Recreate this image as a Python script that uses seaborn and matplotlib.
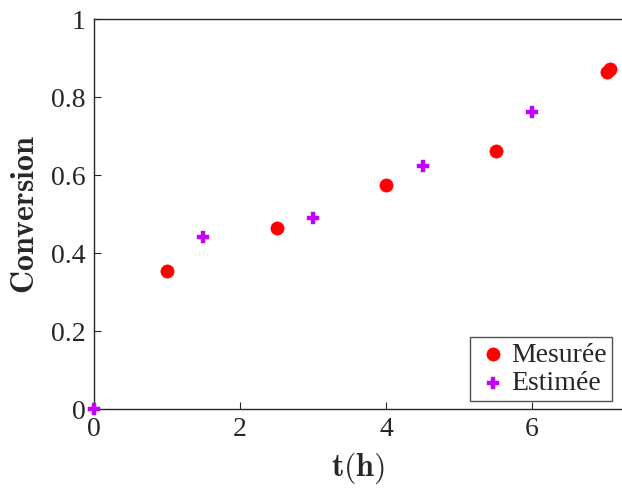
import pandas as pd
import matplotlib
matplotlib.use("Agg")
import matplotlib.pyplot as plt
import seaborn as sns

# valeurs
t_mesure = [1.0, 2.5, 4.0, 5.5, 7.02, 7.07]
conv_mesure = [0.355, 0.464, 0.574, 0.663, 0.864, 0.871]
t_estime = [0.0, 1.5, 3.0, 4.5, 6.0]
conv_estime = [0.0, 0.441, 0.490, 0.623, 0.762]

x_ticks = [0, 2, 4, 6]
y_ticks = [0, 0.2, 0.4, 0.6, 0.8, 1]
y_ticklabels = ["0", "0.2", "0.4", "0.6", "0.8", "1"]

df_m = pd.DataFrame({"t": t_mesure, "conv": conv_mesure})
df_e = pd.DataFrame({"t": t_estime, "conv": conv_estime})

sns.set_style("white")
plt.rcParams["font.family"] = ["Liberation Serif", "DejaVu Serif"]
plt.rcParams["mathtext.fontset"] = "cm"

fig = plt.figure(figsize=(6.22, 4.90), dpi=100)
ax = fig.add_axes([0.151, 0.165, 0.849, 0.796])

sns.scatterplot(data=df_m, x="t", y="conv", ax=ax, color="#ff0000", marker="o",
                s=90, edgecolor="#ff0000", linewidth=0.5, label="Mesurée",
                clip_on=False, zorder=3)
sns.scatterplot(data=df_e, x="t", y="conv", ax=ax, color="#c400ff", marker="P",
                s=70, edgecolor="#c400ff", linewidth=0.3, label="Estimée",
                clip_on=False, zorder=3)

ax.set_xlim(0, 7.23)
ax.set_ylim(0, 1)
ax.set_xticks(x_ticks)
ax.set_yticks(y_ticks)
ax.set_yticklabels(y_ticklabels)
ax.tick_params(direction="in", length=5, width=0.8, labelsize=20, pad=6,
               top=False, right=False, bottom=True, left=True, colors="#262626")
for lab in ax.get_xticklabels() + ax.get_yticklabels():
    lab.set_color("#262626")

for side in ["left", "bottom", "top"]:
    ax.spines[side].set_color("#262626")
    ax.spines[side].set_linewidth(1.0)
ax.spines["right"].set_visible(False)

ax.set_xlabel(r"$\mathbf{t(h)}$", fontsize=23, color="#262626", labelpad=6)
ax.set_ylabel(r"$\mathbf{Conversion}$", fontsize=23, color="#262626", labelpad=7)

leg = ax.legend(loc="lower right", bbox_to_anchor=(0.982, 0.02), fontsize=20,
                frameon=True, fancybox=False, edgecolor="#262626",
                handletextpad=0.0, borderpad=0.2, labelspacing=0.1,
                handlelength=1.3, borderaxespad=0)
leg.get_frame().set_linewidth(1.0)

fig.savefig("out.png", dpi=100)
